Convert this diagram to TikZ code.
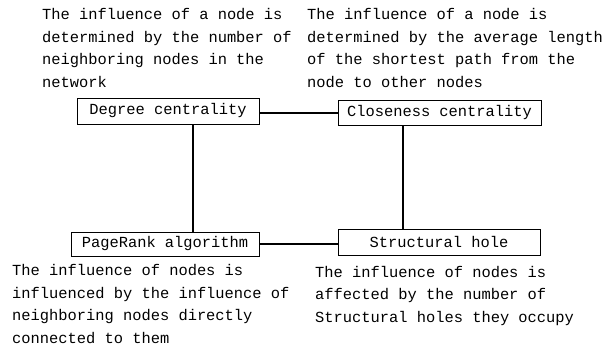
\documentclass[tikz,border=0pt]{standalone}
\usepackage{fontspec}
\setmainfont{Liberation Mono}
\newcommand{\method}[6]{\node[draw,rectangle,line width=0.8pt,inner sep=0pt,minimum width=#4pt,minimum height=#5pt] (#1) at (#2,#3) {#6};}
\newcommand{\remark}[4]{\node[anchor=base west,align=left,inner sep=0pt] (#1) at (#2,#3) {#4};}
\newcommand{\link}[2]{\draw[line width=1.6pt] (#1) -- (#2);}

\begin{document}
\begin{tikzpicture}[x=1pt,y=-1pt,font=\fontsize{15.4}{22.5}\selectfont]
    \useasboundingbox (0,0) rectangle (602,351);
    \method{deg}{168}{111}{182}{26}{Degree centrality}
    \method{clo}{439.5}{113}{203}{25}{Closeness centrality}
    \method{pr}{165}{244}{188}{24}{PageRank algorithm}
    \method{sh}{439}{242}{202}{26}{Structural hole}
    % anchor is the baseline of the last line
    \remark{degnote}{42}{87}{The influence of a node is\\determined by the number of\\neighboring nodes in the\\network}
    \remark{clonote}{307}{87}{The influence of a node is\\determined by the average length\\of the shortest path from the\\node to other nodes}
    \remark{prnote}{12}{343}{The influence of nodes is\\influenced by the influence of\\neighboring nodes directly\\connected to them}
    \remark{shnote}{315}{322}{The influence of nodes is\\affected by the number of\\Structural holes they occupy}
    \coordinate (degfoot) at ([xshift=25pt]deg.south);
    \coordinate (clofoot) at ([xshift=-36.5pt]clo.south);
    \link{deg.east |- clo.west}{clo.west}
    \link{pr.east}{pr.east -| sh.west}
    \link{degfoot}{degfoot |- pr.north}
    \link{clofoot}{clofoot |- sh.north}
\end{tikzpicture}
\end{document}
